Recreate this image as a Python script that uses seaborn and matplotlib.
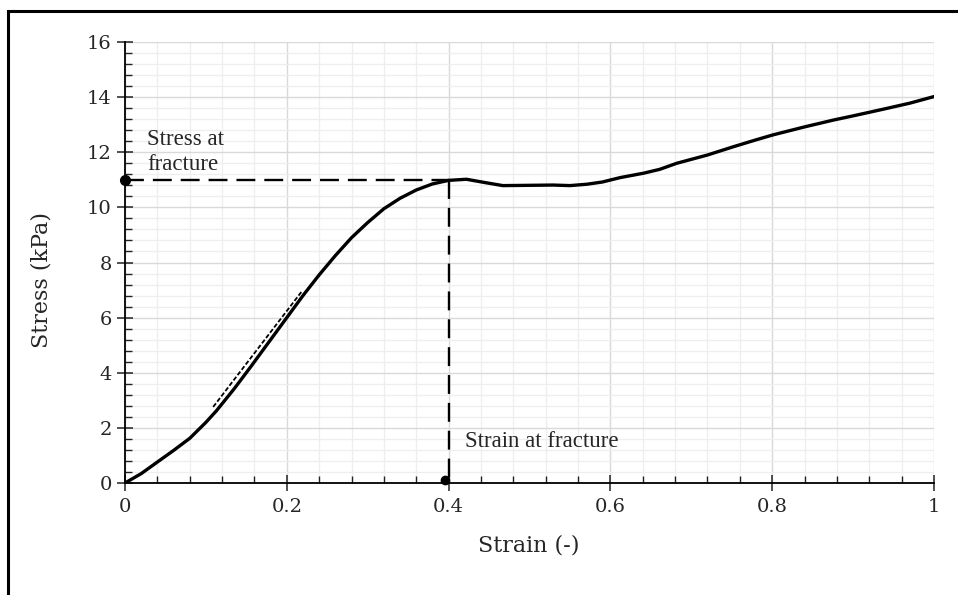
import numpy as np
import pandas as pd
import matplotlib
matplotlib.use("Agg")
import matplotlib.pyplot as plt
from matplotlib.ticker import MultipleLocator, FuncFormatter
from matplotlib.patches import Rectangle
import seaborn as sns

# ---- data ----
strain = [0.0, 0.02, 0.039, 0.06, 0.08, 0.10, 0.113, 0.135, 0.155, 0.18, 0.20,
          0.22, 0.24, 0.26, 0.28, 0.30, 0.32, 0.34, 0.36, 0.38, 0.40, 0.422,
          0.445, 0.467, 0.50, 0.529, 0.55, 0.571, 0.59, 0.612, 0.641, 0.661,
          0.682, 0.72, 0.752, 0.78, 0.801, 0.84, 0.876, 0.90, 0.937, 0.97, 1.0]
stress = [0.0, 0.34, 0.74, 1.18, 1.62, 2.2, 2.62, 3.42, 4.2, 5.2, 6.0,
          6.8, 7.55, 8.25, 8.9, 9.45, 9.95, 10.33, 10.63, 10.85, 10.98, 11.02,
          10.90, 10.79, 10.80, 10.81, 10.79, 10.84, 10.92, 11.08, 11.24, 11.38,
          11.60, 11.90, 12.20, 12.45, 12.63, 12.92, 13.17, 13.32, 13.56, 13.78, 14.02]
tangent_strain = [0.109, 0.219]
tangent_stress = [2.76, 6.97]
fracture_strain = 0.40
fracture_stress = 11.0
x_ticks = [0, 0.2, 0.4, 0.6, 0.8, 1]
y_ticks = [0, 2, 4, 6, 8, 10, 12, 14, 16]

sns.set_style("white")
plt.rcParams['font.family'] = ['DejaVu Serif']

fig = plt.figure(figsize=(9.58, 5.95), dpi=100)
ax = fig.add_axes([125/958, 1-483/595, (934-125)/958, (483-42)/595])

df = pd.DataFrame({"strain": strain, "stress": stress})
sns.lineplot(data=df, x="strain", y="stress", ax=ax, color="black",
             linewidth=2.4, sort=False, estimator=None, zorder=5)

# tangent (fine dashes)
ax.plot(tangent_strain, tangent_stress, color="black", linewidth=1.3,
        dashes=(2.5, 1.2), zorder=4)

# fracture guide lines
ax.plot([0, fracture_strain], [fracture_stress, fracture_stress], color="black",
        linewidth=1.7, dashes=(8, 3.8), zorder=4)
ax.plot([fracture_strain, fracture_strain], [fracture_stress, 0], color="black",
        linewidth=1.7, dashes=(8, 3.8), zorder=4)
ax.plot([0], [fracture_stress], marker="o", color="black", markersize=7,
        clip_on=False, zorder=6)
ax.plot([fracture_strain - 0.004], [0.12], marker="o", color="black", markersize=6,
        clip_on=False, zorder=6)

ax.text(0.027, 12.85, "Stress at\nfracture", fontsize=16.5, family="Liberation Serif",
        va="top", ha="left", linespacing=1.25)
ax.text(0.42, 1.5, "Strain at fracture", fontsize=16.5, family="Liberation Serif",
        va="center", ha="left")

ax.set_xlim(0, 1)
ax.set_ylim(0, 16)
ax.set_xticks(x_ticks)
ax.set_yticks(y_ticks)
ax.xaxis.set_minor_locator(MultipleLocator(0.04))
ax.yaxis.set_minor_locator(MultipleLocator(0.4))
ax.xaxis.set_major_formatter(FuncFormatter(lambda v, p: "0" if v == 0 else ("1" if v == 1 else f"{v:.1f}")))

ax.grid(which="major", color="#d9d9d9", linewidth=1.0)
ax.grid(which="minor", color="#eeeeee", linewidth=0.9)
ax.set_axisbelow(True)

for s in ["top", "right"]:
    ax.spines[s].set_visible(False)
for s in ["left", "bottom"]:
    ax.spines[s].set_color("black")
    ax.spines[s].set_linewidth(1.3)

ax.tick_params(which="both", bottom=True, left=True, top=False, right=False)
ax.tick_params(which="major", direction="inout", length=11, width=1.1, color="#222222",
               labelsize=14, pad=4)
ax.tick_params(which="minor", direction="in", length=5, width=1.0, color="#222222")
ax.tick_params(axis="x", which="major", pad=5)

ax.set_xlabel("Strain (-)", fontsize=16)
ax.set_ylabel("Stress (kPa)", fontsize=16)
ax.xaxis.set_label_coords(0.4995, -0.117)
ax.yaxis.set_label_coords(-0.090, 0.46)

# outer frame (left and top edges visible, others run off the canvas)
fig.patches.append(Rectangle((8/958, -0.1), 1.2, 1 - 11/595 + 0.1,
                             transform=fig.transFigure, fill=False,
                             edgecolor="black", linewidth=2.2))

fig.savefig("out.png", dpi=100)
